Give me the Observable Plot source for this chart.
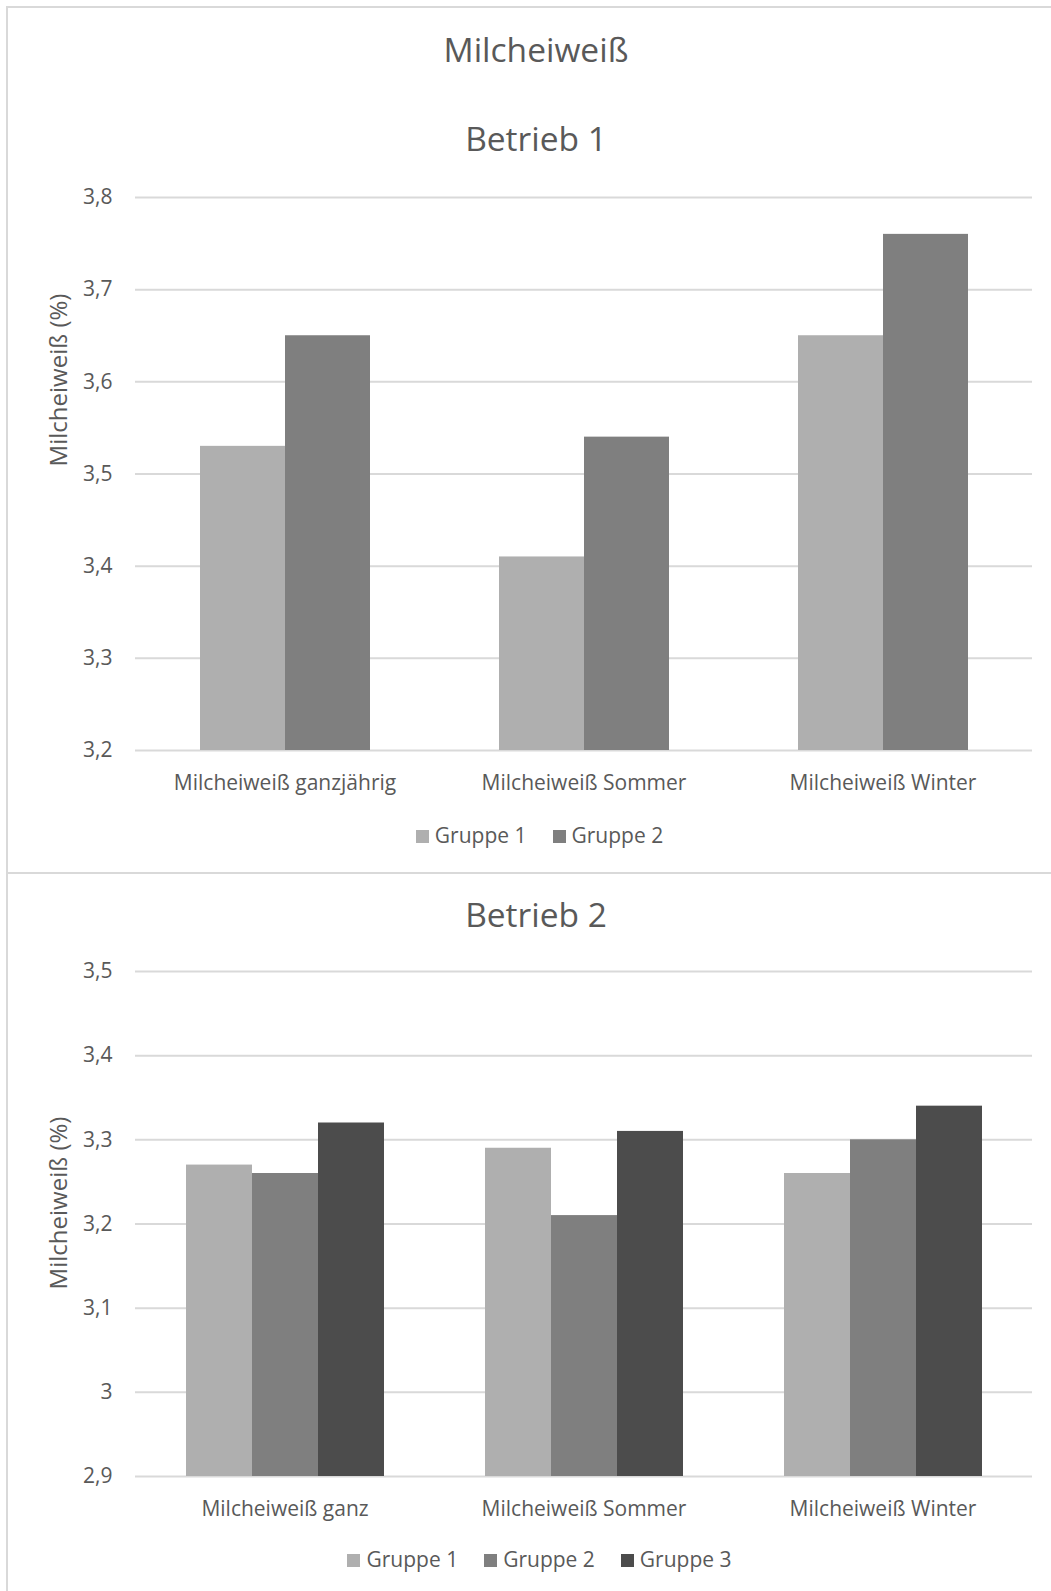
<!DOCTYPE html>
<html>
<head>
<meta charset="utf-8">
<script src="https://cdn.jsdelivr.net/npm/d3@7"></script>
<script src="https://cdn.jsdelivr.net/npm/@observablehq/plot@0.6"></script>
<style>
  body { margin: 0; background: #fff; font-family: "Open Sans", sans-serif; color: #595959; }
  #page { position: relative; width: 1051px; height: 1591px; overflow: hidden; background: #fff; }
  .frame { position: absolute; left: 6px; top: 6px; width: 1200px; height: 1700px;
           border-left: 2px solid #d9d9d9; border-top: 2px solid #d9d9d9; }
  .divider { position: absolute; left: 6px; top: 872px; width: 1200px; height: 2px; background: #d9d9d9; }
  .title { position: absolute; left: 0; width: 1072px; text-align: center; font-size: 33.5px; line-height: 33.5px; white-space: nowrap; }
  .ytitle { position: absolute; font-size: 24px; line-height: 24px; white-space: nowrap;
            transform: translate(-50%, -50%) rotate(-90deg); }
  .chart { position: absolute; left: 0; }
  .legend { position: absolute; left: 0; width: 1079px; display: flex; justify-content: center;
            font-size: 21px; line-height: 21px; white-space: nowrap; }
  .legend .item { display: flex; align-items: center; margin: 0 13px; }
  .legend .swatch { width: 13px; height: 13px; margin-right: 6px; margin-top: 2px; }
</style>
</head>
<body>
<div id="page">
  <div class="frame"></div>
  <div class="divider"></div>
  <div class="title" style="top:33px">Milcheiweiß</div>
  <div class="title" style="top:122px">Betrieb 1</div>
  <div class="title" style="top:898px">Betrieb 2</div>
  <div class="ytitle" style="left:58px;top:380px">Milcheiweiß (%)</div>
  <div class="ytitle" style="left:58px;top:1203px">Milcheiweiß (%)</div>
  <div class="chart" id="chart1" style="top:160px"></div>
  <div class="chart" id="chart2" style="top:940px"></div>
  <div class="legend" id="legend1" style="top:825px"></div>
  <div class="legend" id="legend2" style="top:1549px"></div>
</div>
<script>
// Betrieb 1: milk protein (%) per season, two groups
const categories1 = ["Milcheiweiß ganzjährig", "Milcheiweiß Sommer", "Milcheiweiß Winter"];
const groups1 = ["Gruppe 1", "Gruppe 2"];
const b1Gruppe1 = [3.53, 3.41, 3.65];
const b1Gruppe2 = [3.65, 3.54, 3.76];
const yTicks1 = [3.2, 3.3, 3.4, 3.5, 3.6, 3.7, 3.8];

// Betrieb 2: milk protein (%) per season, three groups
const categories2 = ["Milcheiweiß ganz", "Milcheiweiß Sommer", "Milcheiweiß Winter"];
const groups2 = ["Gruppe 1", "Gruppe 2", "Gruppe 3"];
const b2Gruppe1 = [3.27, 3.29, 3.26];
const b2Gruppe2 = [3.26, 3.21, 3.30];
const b2Gruppe3 = [3.32, 3.31, 3.34];
const yTicks2 = [2.9, 3.0, 3.1, 3.2, 3.3, 3.4, 3.5];

const groupColors = ["#afafaf", "#7f7f7f", "#4c4c4c"];
const gridColor = "#d9d9d9";
const textColor = "#595959";

// German decimal comma
const fmt = d => String(d).replace(".", ",");

function barChart({categories, groups, series, yTicks, height, marginTop, marginBottom}) {
  const rows = categories.flatMap((category, i) =>
    groups.map((group, j) => ({category, group, value: series[j][i]}))
  );
  return Plot.plot({
    width: 1051,
    height,
    marginLeft: 134,
    marginRight: 19,
    marginTop,
    marginBottom,
    style: {fontFamily: "'Open Sans', sans-serif", fontSize: "21px", color: textColor, background: "transparent", overflow: "visible"},
    fx: {domain: categories, paddingInner: 0, paddingOuter: 0, label: null},
    x: {domain: groups, paddingInner: 0, paddingOuter: 0.745, axis: null},
    y: {domain: [yTicks[0], yTicks[yTicks.length - 1]], axis: null},
    color: {domain: groups, range: groupColors.slice(0, groups.length)},
    marks: [
      Plot.ruleY(yTicks, {stroke: gridColor, strokeWidth: 2}),
      Plot.barY(rows, {fx: "category", x: "group", y1: yTicks[0], y2: "value", fill: "group"}),
      Plot.axisY({ticks: yTicks, tickSize: 0, tickPadding: 23, tickFormat: fmt, fontSize: 21, label: null}),
      Plot.axisFx({anchor: "bottom", tickSize: 0, tickPadding: 25, fontSize: 21, label: null})
    ]
  });
}

function legend(el, groups) {
  groups.forEach((g, i) => {
    const item = document.createElement("div");
    item.className = "item";
    const sw = document.createElement("span");
    sw.className = "swatch";
    sw.style.background = groupColors[i];
    const label = document.createElement("span");
    label.textContent = g;
    item.append(sw, label);
    el.append(item);
  });
}

document.getElementById("chart1").append(barChart({
  categories: categories1,
  groups: groups1,
  series: [b1Gruppe1, b1Gruppe2],
  yTicks: yTicks1,
  height: 660,
  marginTop: 37,
  marginBottom: 70
}));

document.getElementById("chart2").append(barChart({
  categories: categories2,
  groups: groups2,
  series: [b2Gruppe1, b2Gruppe2, b2Gruppe3],
  yTicks: yTicks2,
  height: 600,
  marginTop: 31,
  marginBottom: 64
}));

legend(document.getElementById("legend1"), groups1);
legend(document.getElementById("legend2"), groups2);
</script>
</body>
</html>
